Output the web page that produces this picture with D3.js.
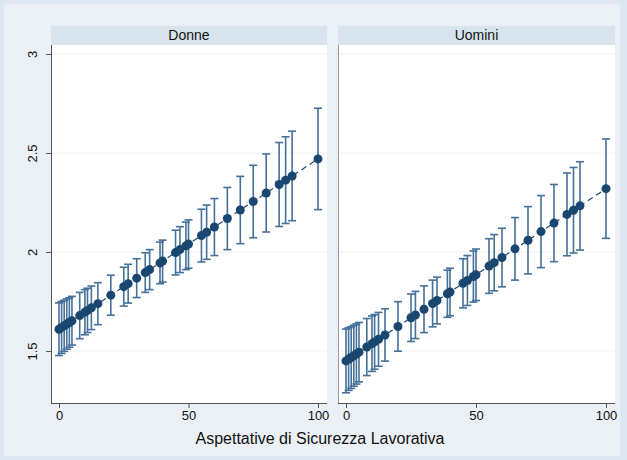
<!DOCTYPE html>
<html><head><meta charset="utf-8">
<script src="https://cdn.jsdelivr.net/npm/d3@7"></script>
<style>html,body{margin:0;padding:0;background:#dde7f2;}svg{display:block;font-family:"Liberation Sans",Arial,sans-serif;}</style>
</head><body>
<svg id="c" width="627" height="460"></svg>
<script>
const xValues = [0,1,2,3,4,5,8,10,11,12.5,15,20,25,26.7,30,33.3,35,39,40,45,46.7,49,50,55,57,60,65,70,75,80,85,87.5,90,100];
const panels = ["Donne","Uomini"];
const donneFit = [1.610,1.619,1.627,1.636,1.644,1.653,1.679,1.696,1.705,1.718,1.739,1.782,1.825,1.840,1.868,1.896,1.911,1.945,1.954,1.997,2.012,2.031,2.040,2.083,2.100,2.126,2.169,2.212,2.255,2.298,2.341,2.363,2.384,2.470];
const donneHalfCI = [0.133,0.131,0.129,0.127,0.125,0.123,0.117,0.114,0.112,0.110,0.106,0.101,0.098,0.098,0.098,0.100,0.101,0.105,0.106,0.113,0.116,0.120,0.122,0.133,0.137,0.144,0.157,0.170,0.183,0.197,0.212,0.219,0.226,0.256];
const uominiFit = [1.450,1.459,1.467,1.476,1.485,1.494,1.520,1.537,1.546,1.559,1.581,1.624,1.668,1.682,1.711,1.740,1.755,1.789,1.798,1.842,1.856,1.876,1.885,1.929,1.946,1.972,2.016,2.059,2.103,2.146,2.190,2.211,2.233,2.320];
const uominiHalfCI = [0.161,0.158,0.156,0.154,0.152,0.150,0.144,0.140,0.138,0.136,0.132,0.125,0.120,0.119,0.118,0.118,0.118,0.119,0.120,0.124,0.126,0.129,0.130,0.138,0.142,0.148,0.158,0.170,0.182,0.195,0.209,0.216,0.223,0.251];
const xTicks = [0,50,100];
const yTicks = [1.5,2,2.5,3];
const xTitle = "Aspettative di Sicurezza Lavorativa";

const series = [
  {name: panels[0], fit: donneFit, half: donneHalfCI},
  {name: panels[1], fit: uominiFit, half: uominiHalfCI}
];

const svg = d3.select("#c");
svg.append("rect").attr("x",0).attr("y",0).attr("width",627).attr("height",460).attr("fill","#dde7f2");
svg.append("rect").attr("x",4).attr("y",4).attr("width",616).attr("height",452).attr("fill","#eaf0f5");

const panelX = [[51,327],[338,615]];
const plotTop = 45, plotBottom = 403, stripTop = 26;
const y = d3.scaleLinear().domain([1.5,3]).range([351,54]);

const navy = "#1a476f", bar = "#44709a";

series.forEach((s, i) => {
  const [x0, x1] = panelX[i];
  const x = d3.scaleLinear().domain([0,100]).range([x0 + 8, x1 - 9]);
  const g = svg.append("g");
  g.append("rect").attr("x",x0).attr("y",stripTop).attr("width",x1-x0).attr("height",plotTop-stripTop).attr("fill","#d8e4ed");
  g.append("text").attr("x",(x0+x1)/2).attr("y",plotTop-5).attr("text-anchor","middle")
    .attr("font-size",14).attr("fill","#111").text(s.name);
  g.append("rect").attr("x",x0).attr("y",plotTop).attr("width",x1-x0).attr("height",plotBottom-plotTop).attr("fill","#ffffff");
  g.selectAll(".grid").data(yTicks).join("line")
    .attr("x1",x0).attr("x2",x1).attr("y1",d=>y(d)).attr("y2",d=>y(d))
    .attr("stroke","#edf1f4").attr("stroke-width",1);
  const pts = xValues.map((xv,k)=>({x:xv, p:s.fit[k], lo:s.fit[k]-s.half[k], hi:s.fit[k]+s.half[k]}));
  const eb = g.append("g").attr("stroke",bar).attr("stroke-width",1.6).attr("fill","none");
  pts.forEach(d => {
    eb.append("line").attr("x1",x(d.x)).attr("x2",x(d.x)).attr("y1",y(d.lo)).attr("y2",y(d.hi));
    eb.append("line").attr("x1",x(d.x)-4).attr("x2",x(d.x)+4).attr("y1",y(d.lo)).attr("y2",y(d.lo));
    eb.append("line").attr("x1",x(d.x)-4).attr("x2",x(d.x)+4).attr("y1",y(d.hi)).attr("y2",y(d.hi));
  });
  g.append("path").datum(pts)
    .attr("d", d3.line().x(d=>x(d.x)).y(d=>y(d.p)))
    .attr("fill","none").attr("stroke",navy).attr("stroke-width",1.2).attr("stroke-dasharray","6,4");
  g.selectAll(".pt").data(pts).join("circle")
    .attr("cx",d=>x(d.x)).attr("cy",d=>y(d.p)).attr("r",4.5).attr("fill",navy);
  const xa = g.append("g").attr("transform",`translate(0,${plotBottom})`)
    .call(d3.axisBottom(x).tickValues(xTicks).tickSize(5).tickPadding(3).tickFormat(d3.format("d")));
  xa.select(".domain").attr("d",`M${x0},0.5H${x1}`).attr("stroke","#555");
  xa.selectAll(".tick line").attr("stroke","#555");
  xa.selectAll("text").attr("font-size",13).attr("fill","#111").attr("font-family","Liberation Sans, Arial, sans-serif");
  g.append("line").attr("x1",x0+0.5).attr("x2",x0+0.5).attr("y1",plotTop).attr("y2",plotBottom).attr("stroke", i===0 ? "#555" : "#999");
  if (i === 0) {
    const ya = g.append("g").attr("transform",`translate(${x0},0)`)
      .call(d3.axisLeft(y).tickValues(yTicks).tickSize(5).tickPadding(4).tickFormat(d3.format("")));
    ya.select(".domain").remove();
    ya.selectAll(".tick line").attr("stroke","#555");
    ya.selectAll("text").attr("font-size",13).attr("fill","#111")
      .attr("font-family","Liberation Sans, Arial, sans-serif")
      .attr("text-anchor","middle").attr("transform","rotate(-90)")
      .attr("x",0).attr("y",-14).attr("dy","0");
  }
});

svg.append("text").attr("x",320).attr("y",444).attr("text-anchor","middle")
  .attr("font-size",16).attr("fill","#111").text(xTitle);
</script>
</body></html>
